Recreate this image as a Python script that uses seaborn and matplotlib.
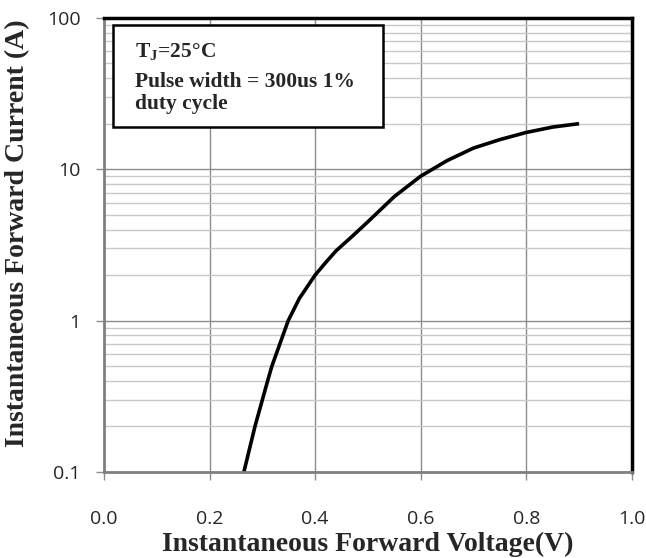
import numpy as np
import pandas as pd
import matplotlib
matplotlib.use("Agg")
import matplotlib.pyplot as plt
import seaborn as sns
from matplotlib.patches import Rectangle
from matplotlib.ticker import FixedLocator, NullFormatter, LogLocator

# values
voltage = [0.265, 0.286, 0.30, 0.31, 0.318, 0.349, 0.37, 0.40, 0.42, 0.44, 0.47, 0.50,
           0.55, 0.60, 0.65, 0.70, 0.75, 0.80, 0.85, 0.90]
current = [0.10, 0.20, 0.30, 0.40, 0.50, 1.0, 1.4, 2.0, 2.42, 2.9, 3.6, 4.5,
           6.6, 9.0, 11.4, 13.8, 15.7, 17.5, 19.0, 20.0]
x_ticks = [0.0, 0.2, 0.4, 0.6, 0.8, 1.0]
y_ticks = [0.1, 1, 10, 100]
y_tick_labels = ["0.1", "1", "10", "100"]
note_lines = ["T$_\\mathbf{J}$=25°C", "Pulse width = 300us 1%", "duty cycle"]

df = pd.DataFrame({"Voltage": voltage, "Current": current})

sns.set_style("white")
plt.rcParams["mathtext.fontset"] = "custom"
plt.rcParams["mathtext.bf"] = "Liberation Serif:bold"
plt.rcParams["mathtext.rm"] = "Liberation Serif:bold"

fig = plt.figure(figsize=(6.46, 5.58), dpi=100)
ax = fig.add_axes([0.161, 0.154, 0.817, 0.814])

sns.lineplot(data=df, x="Voltage", y="Current", ax=ax, color="black", linewidth=2.6,
             solid_joinstyle="round", solid_capstyle="butt")
ax.set_yscale("log")
ax.set_xlim(0, 1.0)
ax.set_ylim(0.1, 100)

ax.yaxis.set_major_locator(FixedLocator(y_ticks))
ax.set_yticks(y_ticks)
ax.set_yticklabels(y_tick_labels)
ax.yaxis.set_minor_locator(LogLocator(base=10, subs=np.arange(2, 10)))
ax.yaxis.set_minor_formatter(NullFormatter())
ax.set_xticks(x_ticks)
ax.set_xticklabels([f"{v:.1f}" for v in x_ticks])

ax.grid(True, which="major", axis="both", color="#8c8c8c", linewidth=1.0)
ax.grid(True, which="minor", axis="y", color="#c8c8c8", linewidth=1.0)

ax.tick_params(axis="both", which="major", direction="out", length=6, width=1,
               color="#8c8c8c", labelsize=14, left=True, bottom=True)
ax.tick_params(axis="x", pad=21)
ax.tick_params(axis="y", pad=11)
ax.tick_params(axis="y", which="minor", length=0)
for lbl in ax.get_xticklabels() + ax.get_yticklabels():
    lbl.set_family("Open Sans")

for side in ["left", "bottom"]:
    ax.spines[side].set_color("#808080")
    ax.spines[side].set_linewidth(2)
for side in ["top", "right"]:
    ax.spines[side].set_color("black")
    ax.spines[side].set_linewidth(2.5)

ax.set_xlabel("Instantaneous Forward Voltage(V)", family="Liberation Serif",
              fontweight="bold", fontsize=20)
ax.xaxis.label.set_va("baseline")
ax.xaxis.set_label_coords(0.5, -0.174)
ax.set_ylabel("Instantaneous Forward Current (A)", family="Liberation Serif",
              fontweight="bold", fontsize=20)
ax.yaxis.set_label_coords(-0.14, 0.527)

# annotation box
ax.add_patch(Rectangle((0.017, 0.760), 0.511, 0.225, transform=ax.transAxes,
                       facecolor="white", edgecolor="black", linewidth=1.8, zorder=5))
for line, ypos in zip(note_lines, [0.914, 0.848, 0.800]):
    ax.text(0.059, ypos, line, transform=ax.transAxes, va="baseline", ha="left",
            family="Liberation Serif", fontweight="bold", fontsize=15.5, zorder=6)

fig.savefig("out.png", dpi=100)
